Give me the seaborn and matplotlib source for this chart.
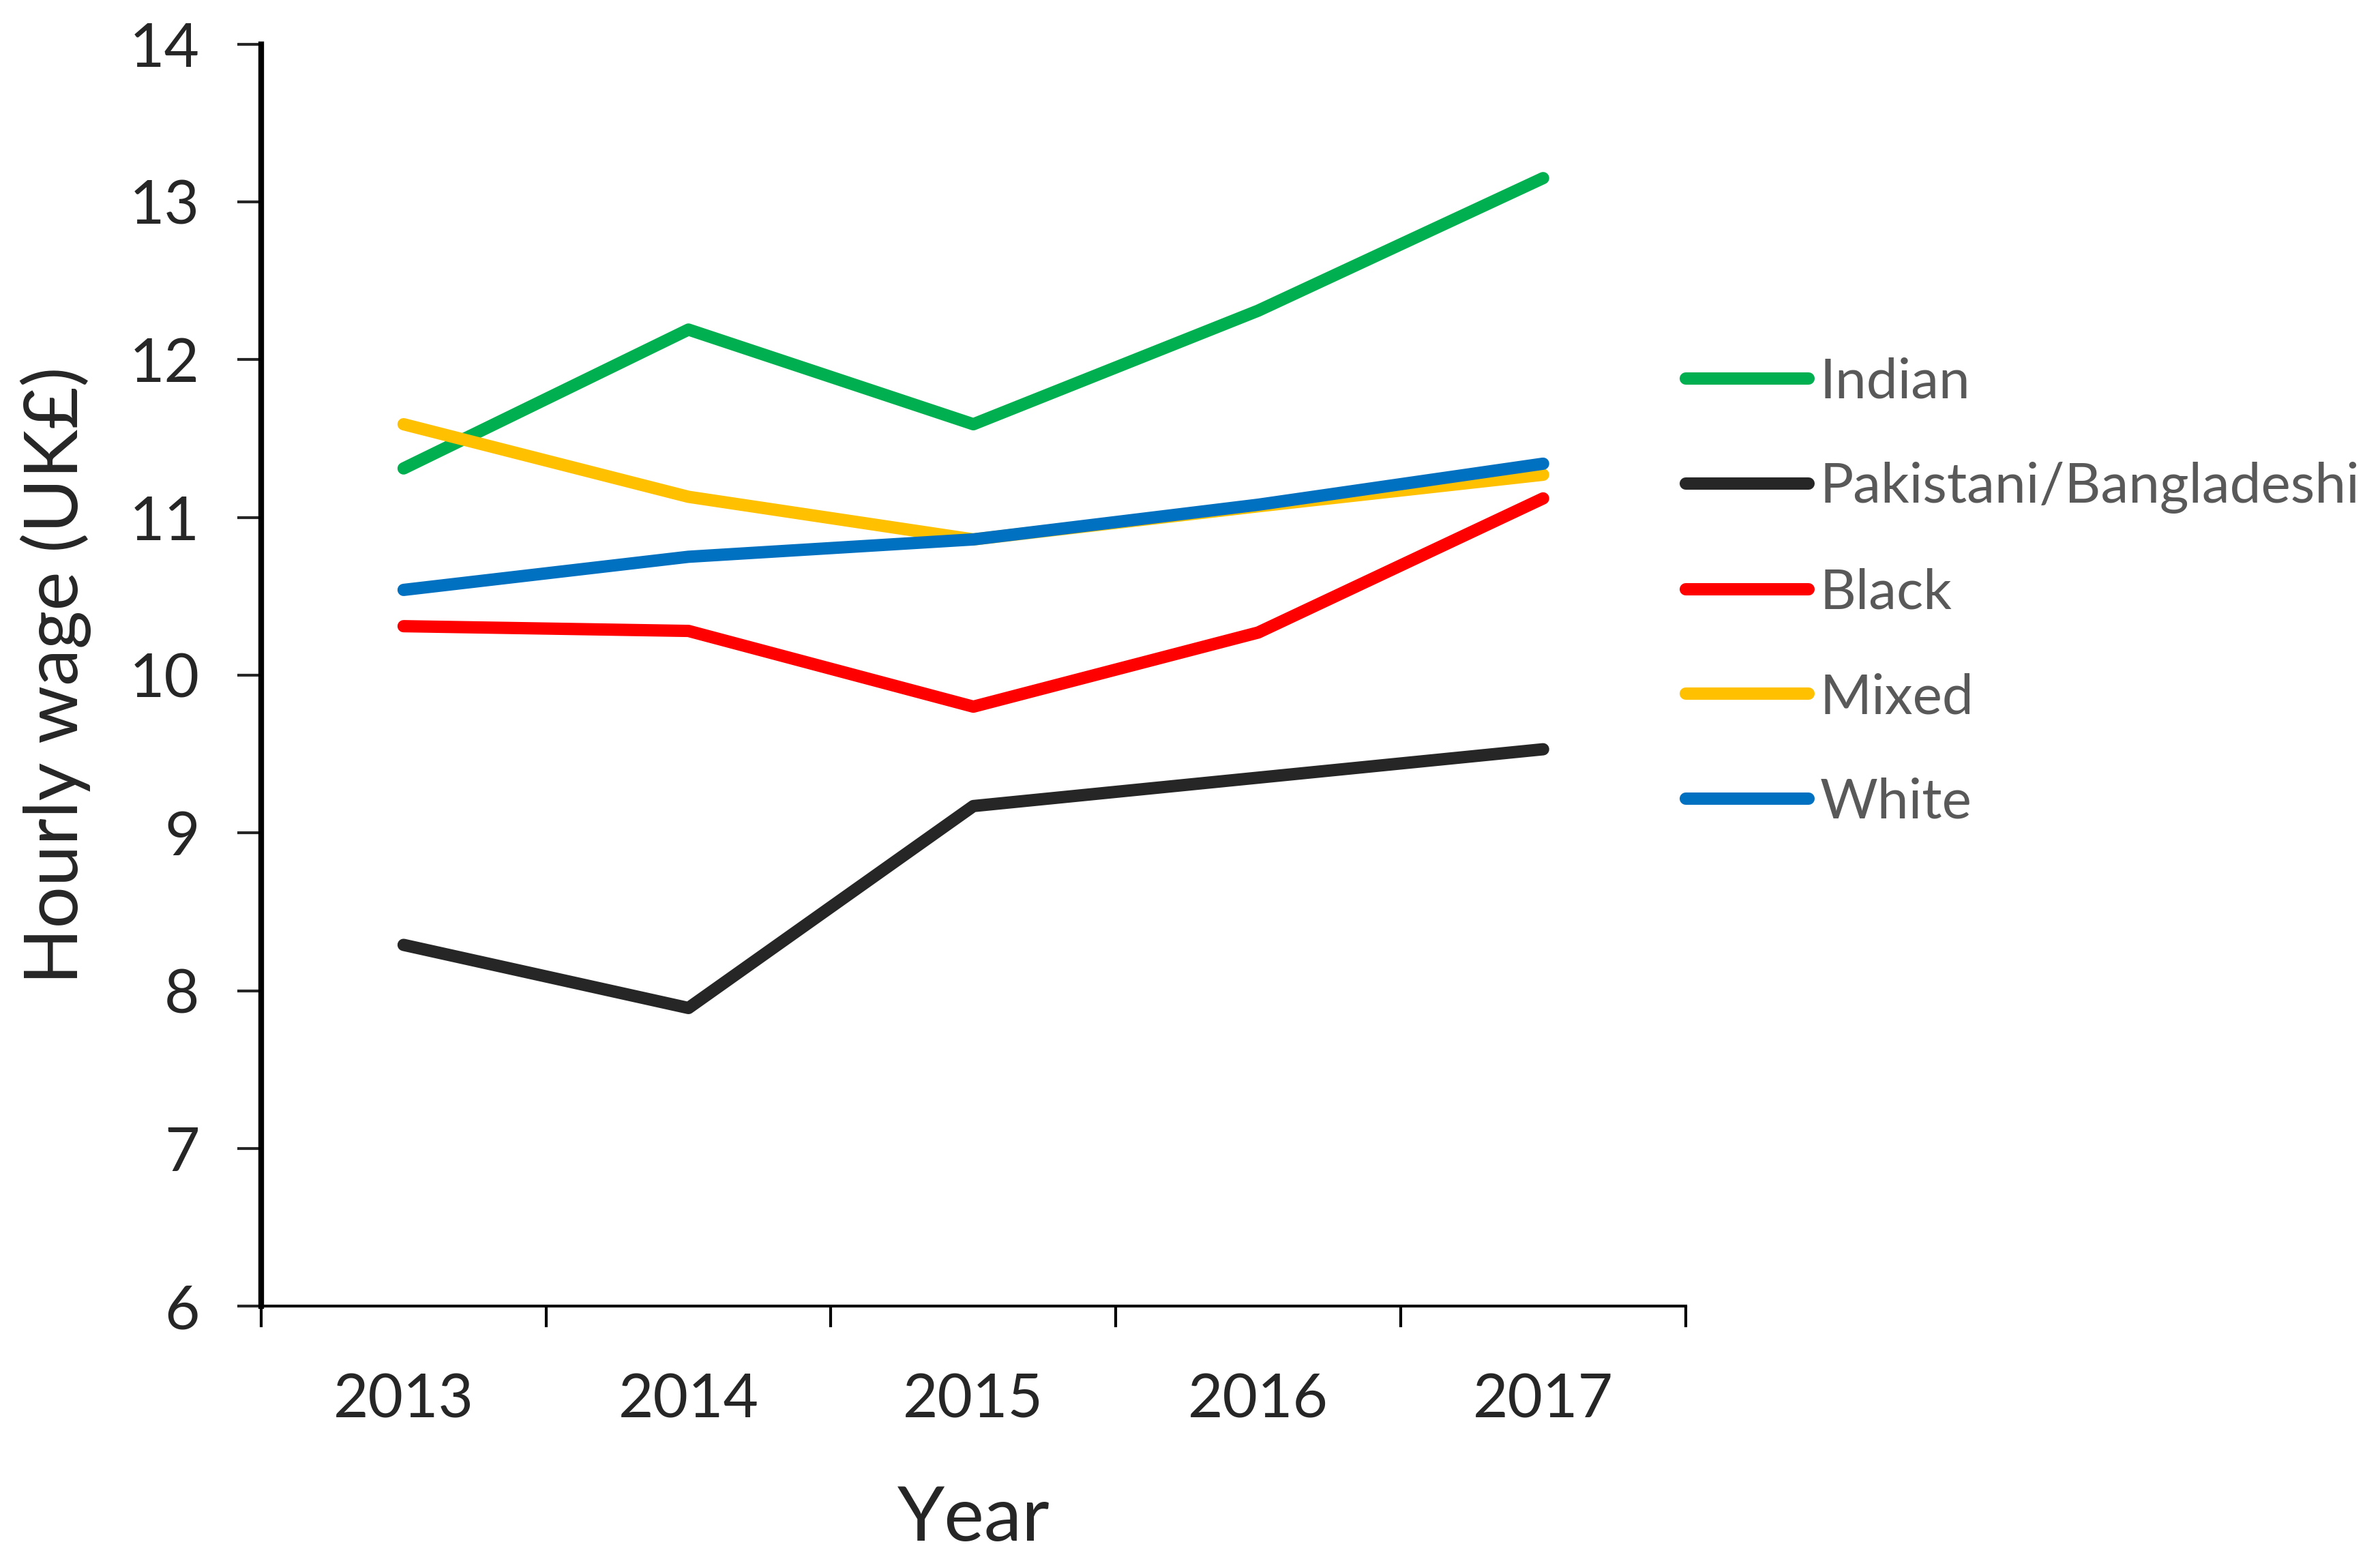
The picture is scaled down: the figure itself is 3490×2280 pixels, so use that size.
import matplotlib
matplotlib.use("Agg")
import matplotlib.pyplot as plt
import seaborn as sns
import pandas as pd
import numpy as np

years = ["2013", "2014", "2015", "2016", "2017"]
groups = ["Indian", "Pakistani/Bangladeshi", "Black", "Mixed", "White"]
indian = [11.31, 12.19, 11.59, 12.31, 13.15]
pak_bang = [8.29, 7.89, 9.17, 9.35, 9.53]
black = [10.31, 10.28, 9.80, 10.27, 11.12]
mixed = [11.59, 11.13, 10.86, 11.07, 11.27]
white = [10.54, 10.75, 10.86, 11.08, 11.34]
colors = ["#00B050", "#262626", "#FF0000", "#FFC000", "#0070C0"]

series = [indian, pak_bang, black, mixed, white]
rows = []
for g, vals in zip(groups, series):
    for i, (y, v) in enumerate(zip(years, vals)):
        rows.append({"Group": g, "Year": y, "pos": i, "Wage": v})
df = pd.DataFrame(rows)

sns.set_style("white")
plt.rcParams["font.family"] = ["Lato", "DejaVu Sans"]

fig = plt.figure(figsize=(34.91, 22.80), dpi=100)
ax = fig.add_axes([0.1097, 0.160, 0.708 - 0.1097, 0.9717 - 0.160])

sns.lineplot(data=df, x="pos", y="Wage", hue="Group", hue_order=groups,
             palette=colors, linewidth=13, ax=ax, sort=False,
             solid_capstyle="round", solid_joinstyle="round")

ax.set_xlim(-0.5, 4.5)
ax.set_ylim(6, 14)
ax.set_yticks(np.arange(6, 15, 1))
ax.set_xticks(np.arange(-0.5, 5.0, 1.0))
ax.set_xticklabels([])
ax.set_xticks(np.arange(0, 5), minor=True)
ax.set_xticklabels(years, minor=True)
ax.tick_params(axis="x", which="major", direction="out", length=22, width=3, color="black", bottom=True)
ax.tick_params(axis="x", which="minor", length=0, labelsize=64, pad=70, bottom=True)
ax.tick_params(axis="y", direction="out", length=25, width=3, labelsize=64, pad=40, left=True)

for s in ["top", "right"]:
    ax.spines[s].set_visible(False)
ax.spines["left"].set_linewidth(6)
ax.spines["bottom"].set_linewidth(3)
ax.spines["left"].set_color("black")
ax.spines["bottom"].set_color("black")

ax.set_xlabel("Year", fontsize=80, labelpad=60)
ax.set_ylabel("Hourly wage (UK\u00a3)", fontsize=78, labelpad=40)

leg = ax.legend(loc="center left", bbox_to_anchor=(0.708, 0.619),
                bbox_transform=fig.transFigure, frameon=False,
                fontsize=59, handlelength=2.2, handletextpad=0.2,
                labelspacing=0.97, borderpad=0, borderaxespad=0)
for h in leg.get_lines():
    h.set_linewidth(13)
    h.set_solid_capstyle("round")
for t in leg.get_texts():
    t.set_color("#595959")

fig.savefig("out.png", dpi=100, facecolor="white")
